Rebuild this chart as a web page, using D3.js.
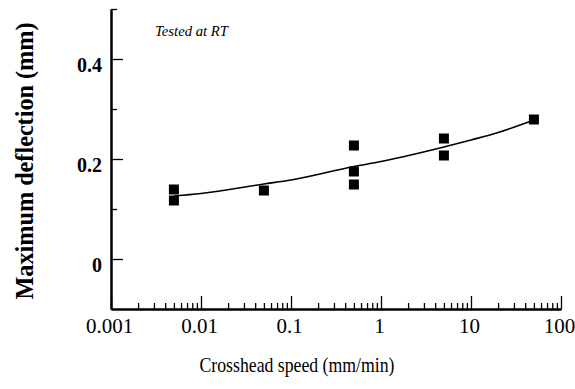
<!DOCTYPE html>
<html>
<head>
<meta charset="utf-8">
<script src="https://cdn.jsdelivr.net/npm/d3@7"></script>
<style>
  body { margin: 0; background: #fff; }
  svg text { font-family: "Liberation Serif", "Times New Roman", serif; fill: #000; }
  .axis path, .axis line { stroke: #000; }
  .axis path { stroke-width: 2; }
  .axis line { stroke-width: 1.3; }
</style>
</head>
<body>
<div id="chart"></div>
<script>
let w = 575;
let h = 389;

// measured points (crosshead speed in mm/min, deflection in mm)
let speeds = [0.005, 0.005, 0.05, 0.5, 0.5, 0.5, 5, 5, 50];
let deflections = [0.139, 0.117, 0.137, 0.227, 0.175, 0.149, 0.241, 0.207, 0.279];

// fitted curve
let fitSpeeds = [0.005, 0.01, 0.05, 0.1, 0.5, 1, 5, 10, 20, 50];
let fitDeflections = [0.126, 0.131, 0.150, 0.158, 0.185, 0.195, 0.224, 0.238, 0.253, 0.278];

let xTickValues = [0.001, 0.01, 0.1, 1, 10, 100];
let xTickLabels = ["0.001", "0.01", "0.1", "1", "10", "100"];
let yMajorTicks = [0, 0.2, 0.4];
let yMinorTicks = [0.1, 0.3, 0.5];

let note = "Tested at RT";
let xTitle = "Crosshead speed (mm/min)";
let yTitle = "Maximum deflection (mm)";

let x = d3.scaleLog()
    .domain([0.001, 100])
    .range([111, 561]);

let y = d3.scaleLinear()
    .domain([-0.1, 0.5])
    .range([309, 9]);

let svg = d3.select("#chart")
    .append("svg")
    .attr("width", w)
    .attr("height", h);

// x axis: minor ticks then major ticks with labels
let xMinor = x.ticks().filter(d => xTickValues.indexOf(d) < 0);

svg.append("g")
    .attr("class", "axis")
    .attr("transform", "translate(0," + y(-0.1) + ")")
    .call(d3.axisBottom(x).tickValues(xMinor).tickSizeInner(-6).tickSizeOuter(0).tickFormat(""));

let xAxis = svg.append("g")
    .attr("class", "axis")
    .attr("transform", "translate(0," + y(-0.1) + ")")
    .call(d3.axisBottom(x)
        .tickValues(xTickValues)
        .tickSizeInner(-13)
        .tickSizeOuter(0)
        .tickPadding(9)
        .tickFormat((d, i) => xTickLabels[i]));

xAxis.selectAll("text")
    .attr("font-size", 21)
    .attr("dx", -2);

// y axis
svg.append("g")
    .attr("class", "axis")
    .attr("transform", "translate(" + x(0.001) + ",0)")
    .call(d3.axisLeft(y).tickValues(yMinorTicks).tickSizeInner(-6).tickSizeOuter(0).tickFormat(""));

let yAxis = svg.append("g")
    .attr("class", "axis")
    .attr("transform", "translate(" + x(0.001) + ",0)")
    .call(d3.axisLeft(y)
        .tickValues(yMajorTicks)
        .tickSizeInner(-12)
        .tickSizeOuter(0)
        .tickPadding(9)
        .tickFormat(d3.format("")));

yAxis.selectAll("text")
    .attr("font-size", 20)
    .attr("font-weight", "bold")
    .attr("dy", "0.64em");

// fitted curve
let line = d3.line()
    .x((d, i) => x(fitSpeeds[i]))
    .y(d => y(d))
    .curve(d3.curveMonotoneX);

svg.append("path")
    .datum(fitDeflections)
    .attr("d", line)
    .attr("fill", "none")
    .attr("stroke", "#000")
    .attr("stroke-width", 1.6);

// square markers
let s = 10;
svg.selectAll("rect.pt")
    .data(deflections)
    .enter()
    .append("rect")
    .attr("class", "pt")
    .attr("x", (d, i) => x(speeds[i]) - s / 2)
    .attr("y", d => y(d) - s / 2)
    .attr("width", s)
    .attr("height", s)
    .attr("fill", "#000");

// labels
svg.append("text")
    .attr("x", 155)
    .attr("y", 36)
    .attr("font-size", 15)
    .attr("font-style", "italic")
    .attr("textLength", 73)
    .attr("lengthAdjust", "spacingAndGlyphs")
    .text(note);

svg.append("text")
    .attr("x", 297)
    .attr("y", 372)
    .attr("text-anchor", "middle")
    .attr("font-size", 22)
    .attr("textLength", 195)
    .attr("lengthAdjust", "spacingAndGlyphs")
    .text(xTitle);

svg.append("text")
    .attr("transform", "translate(33,161) rotate(-90)")
    .attr("text-anchor", "middle")
    .attr("font-size", 25)
    .attr("font-weight", "bold")
    .attr("textLength", 277)
    .attr("lengthAdjust", "spacingAndGlyphs")
    .text(yTitle);
</script>
</body>
</html>
